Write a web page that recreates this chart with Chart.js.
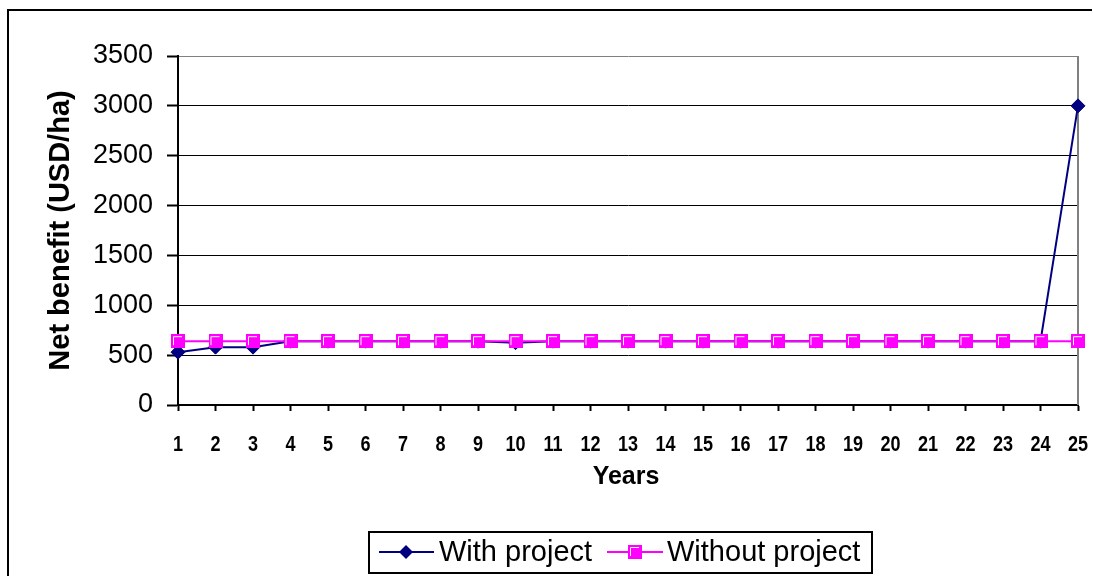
<!DOCTYPE html>
<html>
<head>
<meta charset="utf-8">
<script src="https://cdn.jsdelivr.net/npm/chart.js@4/dist/chart.umd.min.js"></script>
<style>
  html, body { margin: 0; padding: 0; background: #fff; overflow: hidden; }
  #wrap { width: 1093px; height: 576px; }
  canvas { display: block; }
</style>
</head>
<body>
<div id="wrap"><canvas id="c" width="1093" height="576"></canvas></div>
<script>
// Net benefit per hectare over a 25-year horizon
const years = ['1','2','3','4','5','6','7','8','9','10','11','12','13','14','15','16','17','18','19','20','21','22','23','24','25'];
const withProject = [530, 580, 580, 640, 640, 640, 640, 640, 640, 625, 640, 640, 640, 640, 640, 640, 640, 640, 640, 640, 640, 640, 640, 640, 3000];
const withoutProject = [640, 640, 640, 640, 640, 640, 640, 640, 640, 640, 640, 640, 640, 640, 640, 640, 640, 640, 640, 640, 640, 640, 640, 640, 640];
const yTicks = [0, 500, 1000, 1500, 2000, 2500, 3000, 3500];
const seriesNames = ['With project', 'Without project'];
const xTitle = 'Years';

const NAVY = '#000080';
const MAGENTA = '#FF00FF';

// square marker with a light inner edge
function squareMarker(size) {
  const c = document.createElement('canvas');
  c.width = size; c.height = size;
  const g = c.getContext('2d');
  g.fillStyle = MAGENTA;
  g.fillRect(0, 0, size, size);
  g.strokeStyle = '#ffffff';
  g.lineWidth = 1;
  g.beginPath();
  g.moveTo(2.5, size - 3);
  g.lineTo(2.5, 2.5);
  g.lineTo(size - 3, 2.5);
  g.stroke();
  return c;
}
const sq = squareMarker(14);

function drawDiamond(ctx, x, y, r) {
  ctx.beginPath();
  ctx.moveTo(x, y - r);
  ctx.lineTo(x + r, y);
  ctx.lineTo(x, y + r);
  ctx.lineTo(x - r, y);
  ctx.closePath();
  ctx.fill();
}

const frameAndLegend = {
  id: 'frameAndLegend',
  beforeDraw(chart) {
    const ctx = chart.ctx;
    ctx.save();
    ctx.fillStyle = '#fff';
    ctx.fillRect(0, 0, chart.width, chart.height);
    ctx.restore();
  },
  beforeDatasetsDraw(chart) {
    const ctx = chart.ctx;
    const a = chart.chartArea;
    ctx.save();
    ctx.strokeStyle = '#808080';
    ctx.lineWidth = 2;
    ctx.beginPath();
    ctx.moveTo(a.right, a.top);
    ctx.lineTo(a.right, a.bottom);
    ctx.stroke();
    ctx.restore();
  },
  afterDraw(chart) {
    const ctx = chart.ctx;
    const xs = chart.scales.x;
    const a = chart.chartArea;
    ctx.save();
    // outer chart frame: left edge, then top edge
    ctx.strokeStyle = '#000';
    ctx.lineWidth = 2;
    ctx.beginPath();
    ctx.moveTo(8, chart.height);
    ctx.lineTo(8, 10);
    ctx.stroke();
    ctx.beginPath();
    ctx.moveTo(7, 10);
    ctx.lineTo(chart.width - 1, 10);
    ctx.stroke();

    // category labels along the x axis, in a condensed bold face
    ctx.fillStyle = '#000';
    ctx.font = 'bold 22px "Liberation Sans", Arial, sans-serif';
    ctx.textAlign = 'center';
    ctx.textBaseline = 'middle';
    chart.data.labels.forEach((lab, i) => {
      const px = xs.getPixelForValue(i);
      ctx.save();
      ctx.translate(px, xs.top + 40);
      ctx.scale(0.82, 1);
      ctx.fillText(lab, 0, 0);
      ctx.restore();
    });

    // x-axis title
    ctx.font = 'bold 25px "Liberation Sans", Arial, sans-serif';
    ctx.fillText(xTitle, (a.left + a.right) / 2 - 2, 477);

    // legend box
    ctx.strokeRect(369, 532, 503, 41);
    const cy = 552;
    ctx.font = '29px "Liberation Sans", Arial, sans-serif';
    ctx.textAlign = 'left';
    // first entry
    ctx.strokeStyle = NAVY;
    ctx.lineWidth = 2;
    ctx.beginPath(); ctx.moveTo(379, cy); ctx.lineTo(434, cy); ctx.stroke();
    ctx.fillStyle = NAVY;
    drawDiamond(ctx, 406, cy, 7);
    ctx.fillStyle = '#000';
    ctx.fillText(chart.data.datasets[0].label, 439, cy + 1);
    // second entry
    ctx.strokeStyle = MAGENTA;
    ctx.beginPath(); ctx.moveTo(607, cy); ctx.lineTo(663, cy); ctx.stroke();
    ctx.drawImage(sq, 635 - 7, cy - 7);
    ctx.fillStyle = '#000';
    ctx.fillText(chart.data.datasets[1].label, 667, cy + 1);
    ctx.restore();
  }
};

new Chart(document.getElementById('c'), {
  type: 'line',
  data: {
    labels: years,
    datasets: [
      {
        label: seriesNames[0],
        data: withProject,
        borderColor: NAVY,
        backgroundColor: NAVY,
        borderWidth: 2,
        pointStyle: 'rectRot',
        pointRadius: 7,
        pointBorderWidth: 1,
        pointBorderColor: NAVY,
        pointBackgroundColor: NAVY,
        tension: 0,
        order: 1
      },
      {
        label: seriesNames[1],
        data: withoutProject,
        borderColor: MAGENTA,
        backgroundColor: MAGENTA,
        borderWidth: 2,
        pointStyle: sq,
        pointRadius: 7,
        tension: 0,
        order: 0
      }
    ]
  },
  options: {
    responsive: false,
    animation: false,
    devicePixelRatio: 1,
    layout: { padding: { left: 0, right: 15, top: 56, bottom: 71 } },
    plugins: {
      legend: { display: false },
      tooltip: { enabled: false }
    },
    scales: {
      x: {
        offset: false,
        border: { display: true, color: '#000', width: 2 },
        grid: {
          drawOnChartArea: false,
          drawTicks: true,
          tickLength: 6,
          tickWidth: 2,
          tickColor: '#000'
        },
        ticks: { display: false, autoSkip: false, maxRotation: 0 },
        title: { display: false },
        afterFit(scale) {
          scale.height = 100;
          scale.paddingLeft = 0;
          scale.paddingRight = 0;
        }
      },
      y: {
        min: 0,
        max: 3500,
        border: { display: true, color: '#000', width: 2 },
        grid: {
          color: (c) => (c.tick && c.tick.value === 3500 ? '#808080' : '#000'),
          lineWidth: 1,
          drawTicks: true,
          tickLength: 11,
          tickWidth: 2,
          tickColor: '#000'
        },
        afterBuildTicks(scale) {
          scale.ticks = yTicks.map(v => ({ value: v }));
        },
        ticks: {
          color: '#000',
          padding: 14,
          callback: (v) => String(v),
          font: { family: '"Liberation Sans", Arial, sans-serif', size: 27, lineHeight: 1 }
        },
        title: {
          display: true,
          text: 'Net benefit (USD/ha)',
          color: '#000',
          font: { family: '"Liberation Sans", Arial, sans-serif', size: 29, weight: 'bold', lineHeight: 1 },
          padding: { top: 46, bottom: 0 }
        },
        afterFit(scale) { scale.width = 178; }
      }
    }
  },
  plugins: [frameAndLegend]
});
</script>
</body>
</html>
